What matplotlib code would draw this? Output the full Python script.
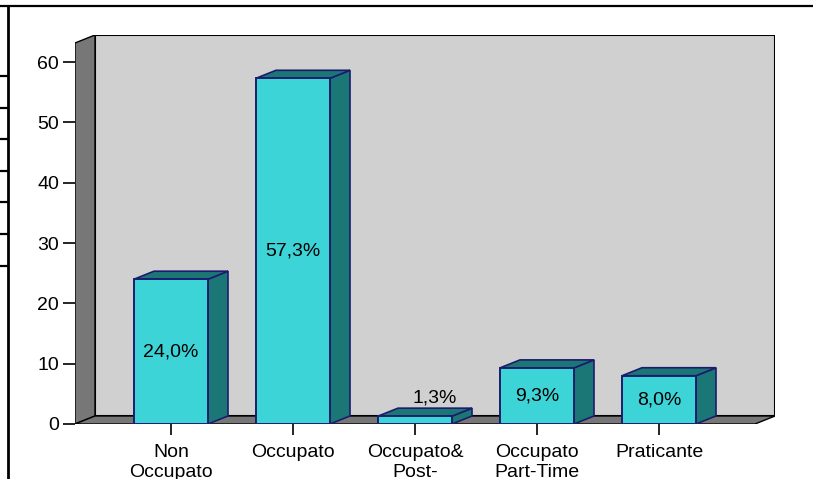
import matplotlib
matplotlib.use("Agg")
import matplotlib.pyplot as plt
from matplotlib.patches import Polygon, Rectangle
from matplotlib.lines import Line2D

plt.rcParams['font.family'] = ['Liberation Sans', 'DejaVu Sans']

# ---- data ----
categories = ["Non\nOccupato", "Occupato", "Occupato&\nPost-", "Occupato\nPart-Time", "Praticante"]
values = [24.0, 57.3, 1.3, 9.3, 8.0]
value_labels = ["24,0%", "57,3%", "1,3%", "9,3%", "8,0%"]
yticks = [0, 10, 20, 30, 40, 50, 60]

# ---- styles ----
W, H, DPI = 813, 479, 100
FACE = "#3dd4d8"
DARK = "#1b7676"
EDGE = "#1c1c6e"
WALL = "#d0d0d0"
SIDE = "#777777"
FS = 14

fig = plt.figure(figsize=(W / DPI, H / DPI), dpi=DPI)

# decorative frame lines (figure pixel space)
deco = fig.add_axes([0, 0, 1, 1], zorder=0)
deco.set_xlim(0, W)
deco.set_ylim(H, 0)
deco.axis("off")
deco.add_line(Line2D([0, W], [6, 6], color="black", lw=1.6))
deco.add_line(Line2D([8, 8], [6, H], color="black", lw=2.0))
for yy in [75.7, 108, 139, 171, 202, 234, 266]:
    deco.add_line(Line2D([0, 8], [yy, yy], color="black", lw=1.6))

# main chart axes
left_px, right_px, bottom_px, top_px = 75, 775, 424, 35
ax = fig.add_axes([left_px / W, (H - bottom_px) / H, (right_px - left_px) / W, (bottom_px - top_px) / H], zorder=1)
ax.patch.set_alpha(0)

px_per_cat = 122.0
px_per_val = 6.033
x0 = -96 / px_per_cat
x1 = len(categories) - 1 + 96 / px_per_cat
dx = 20 / px_per_cat
dy = 8 / px_per_val
wall_top = 63.15
ax.set_xlim(x0, x1 + dx)
ax.set_ylim(0, wall_top + dy)

# back wall
ax.add_patch(Rectangle((x0 + dx, dy), x1 - x0, wall_top, facecolor=WALL, edgecolor="black", lw=1.5, zorder=1))
# left wall
ax.add_patch(Polygon([(x0, 0), (x0, wall_top), (x0 + dx, wall_top + dy), (x0 + dx, dy)],
                     closed=True, facecolor=SIDE, edgecolor="black", lw=1.0, zorder=2))
# floor
ax.add_patch(Polygon([(x0, 0), (x1, 0), (x1 + dx, dy), (x0 + dx, dy)],
                     closed=True, facecolor=SIDE, edgecolor="black", lw=1.0, zorder=2))

bw = 74 / px_per_cat
for i, (v, lab) in enumerate(zip(values, value_labels)):
    l, r = i - bw / 2, i + bw / 2
    ax.add_patch(Polygon([(r, 0), (r + dx, dy), (r + dx, v + dy), (r, v)],
                         closed=True, facecolor=DARK, edgecolor=EDGE, lw=1.2, zorder=3))
    ax.add_patch(Polygon([(l, v), (r, v), (r + dx, v + dy), (l + dx, v + dy)],
                         closed=True, facecolor=DARK, edgecolor=EDGE, lw=1.2, zorder=3))
    ax.add_patch(Rectangle((l, 0), bw, v, facecolor=FACE, edgecolor=EDGE, lw=1.4, zorder=4))
    if v < 3:
        ax.text(i + dx, v + dy + 0.3, lab, ha="center", va="bottom", fontsize=FS, zorder=5)
    else:
        ax.text(i, v / 2, lab, ha="center", va="center", fontsize=FS, zorder=5)

ax.set_xticks(range(len(categories)))
ax.set_xticklabels(categories, fontsize=FS)
for t in ax.get_xticklabels():
    t.set_linespacing(1.22)
ax.set_yticks(yticks)
ax.set_yticklabels([str(t) for t in yticks], fontsize=FS)
ax.tick_params(axis="x", direction="out", length=8, width=1.2, pad=6.5, colors="black")
ax.tick_params(axis="y", direction="out", length=8.6, width=1.2, pad=2.9, colors="black")
for s in ax.spines.values():
    s.set_visible(False)

fig.savefig("out.png", dpi=DPI)
